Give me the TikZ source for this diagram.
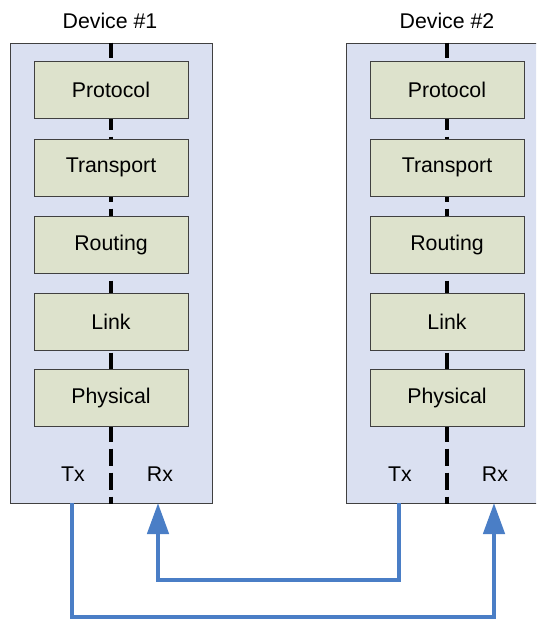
\documentclass[tikz,border=0pt]{standalone}
\usepackage{fontspec}
\setmainfont{Liberation Sans}
\usetikzlibrary{arrows.meta}

\definecolor{devfill}{RGB}{218,224,241}
\definecolor{layerfill}{RGB}{221,226,204}
\definecolor{edgegray}{RGB}{64,64,64}
\definecolor{linkblue}{RGB}{74,126,198}

\tikzset{
  devicebox/.style={draw=edgegray, line width=1pt, fill=devfill,
    minimum width=202pt, minimum height=460pt, inner sep=0pt},
  layerbox/.style={draw=edgegray, line width=1pt, fill=layerfill,
    minimum width=154pt, minimum height=57pt, inner sep=0pt,
    font=\fontsize{21.3}{25}\selectfont},
  lbl/.style={inner sep=0pt, font=\fontsize{21.3}{25}\selectfont},
  divider/.style={line width=3.3pt, dash pattern=on 17pt off 7pt, dash phase=2pt},
  wire/.style={draw=linkblue, line width=4.6pt, line join=miter,
    -{Triangle[length=31pt, width=21pt]}},
}

\begin{document}
\begin{tikzpicture}[x=1pt, y=-1pt]
  \clip (0,0) rectangle (536,619);
  \fill[white] (0,0) rectangle (536,619);

  % the two devices
  \node[devicebox] (dev1) at (111,273) {};
  \node[devicebox] (dev2) at (447,273) {};
  \node[lbl] (title1) at (110,21) {Device \#1};
  \node[lbl] (title2) at (447,21) {Device \#2};

  % vertical divider through each layer stack
  \draw[divider] (dev1.north) -- (dev1.south);
  \draw[divider] (dev2.north) -- (dev2.south);

  % protocol layers
  \foreach \d/\x in {1/111, 2/447} {
    \node[layerbox] (prot\d) at (\x,90)    {Protocol};
    \node[layerbox] (trans\d) at (\x,167.5) {Transport};
    \node[layerbox] (rout\d) at (\x,244.5)  {Routing};
    \node[layerbox] (link\d) at (\x,321.5)  {Link};
    \node[layerbox] (phys\d) at (\x,398)    {Physical};
  }

  % transmit / receive labels
  \node[lbl] (tx1) at (73,474)  {Tx};
  \node[lbl] (rx1) at (160,474) {Rx};
  \node[lbl] (tx2) at (400,474) {Tx};
  \node[lbl] (rx2) at (495,474) {Rx};

  % ports on the bottom edge of each device
  \coordinate (tx1port) at (72,503);
  \coordinate (rx1port) at (158,503);
  \coordinate (tx2port) at (399,503);
  \coordinate (rx2port) at (494,503);

  % cross-connected links
  \draw[wire] (tx1port) |- (494,617) -- (rx2port);
  \draw[wire] (tx2port) |- (158,580) -- (rx1port);
\end{tikzpicture}
\end{document}
